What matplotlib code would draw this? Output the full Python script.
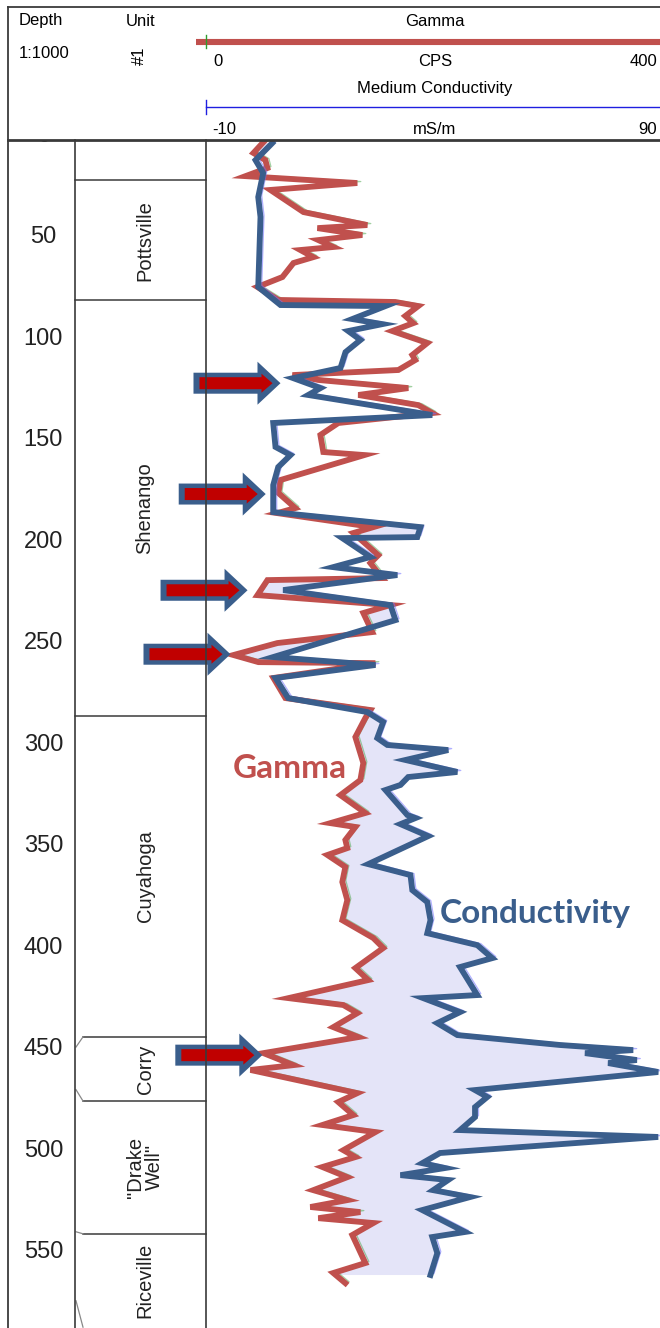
import numpy as np
import matplotlib
matplotlib.use('Agg')
import matplotlib.pyplot as plt
from matplotlib.patches import Polygon
from matplotlib import transforms

plt.rcParams['font.family'] = ['Liberation Sans', 'DejaVu Sans']

# ---------------- data ----------------
gamma_depth = [2.2, 8.6, 12.1, 16.0, 20.0, 23.4, 26.8, 37.7, 44.1, 45.6, 49.0, 51.5, 54.9, 56.4,
               59.9, 62.8, 69.7, 74.6, 81.0, 82.0, 84.0, 88.9, 92.4, 96.3, 102.2, 108.1, 110.6,
               115.5, 118.0, 120.4, 124.4, 127.8, 132.8, 136.7, 141.6, 147.5, 155.9, 157.4,
               169.7, 176.1, 183.5, 186.0, 192.9, 195.8, 206.7, 210.6, 218.0, 219.0, 226.4,
               231.3, 235.2, 244.6, 250.0, 255.9, 259.4, 259.9, 267.2, 277.1, 283.0, 286.9,
               296.3, 309.1, 317.5, 324.9, 333.7, 338.7, 340.6, 347.0, 351.0, 354.4, 360.3,
               367.7, 376.6, 386.5, 395.3, 400.2, 410.1, 416.0, 424.9, 428.3, 432.3, 439.2,
               444.1, 452.0, 457.9, 460.3, 471.7, 476.1, 482.5, 487.4, 490.9, 499.8, 503.2,
               508.1, 513.1, 519.5, 524.4, 527.8, 530.3, 533.3, 535.7, 541.6, 555.4, 560.3, 565.3]
gamma_cps = [52.7, 42.2, 52.7, 54.5, 35.2, 133.6, 57.1, 86.2, 142.4, 98.5, 138.0, 99.3, 112.5, 83.5,
             94.9, 77.4, 67.7, 45.7, 64.2, 167.0, 187.3, 175.8, 182.9, 164.4, 195.2, 182.0, 184.6,
             169.7, 76.5, 99.3, 178.5, 134.5, 187.3, 199.6, 116.9, 101.1, 103.7, 139.8,
             65.9, 64.2, 79.1, 63.3, 147.7, 130.1, 152.1, 145.1, 155.6, 54.5, 45.7,
             162.6, 138.9, 146.8, 63.3, 24.6, 46.6, 149.5, 59.8, 70.3, 145.1, 140.7,
             131.9, 138.9, 136.3, 118.7, 140.7, 109.9, 131.9, 123.1, 124.8, 107.3, 123.1,
             120.4, 124.8, 120.4, 147.7, 156.5, 131.9, 143.3, 73.0, 121.3, 133.6, 112.5,
             134.5, 51.0, 77.4, 39.6, 133.6, 116.9, 130.1, 102.9, 149.5, 121.3, 131.9,
             102.9, 124.8, 94.9, 124.8, 92.3, 136.3, 99.3, 147.7, 129.2, 140.7, 112.5, 123.1]

cond_depth = [3.7, 12.1, 18.5, 30.3, 40.1, 74.6, 83.5, 84.0, 90.4, 92.9, 96.3, 100.7, 106.7, 114.5,
              119.5, 124.4, 127.8, 137.7, 141.6, 153.4, 157.4, 163.3, 172.2, 185.5, 192.9, 197.8,
              198.3, 207.6, 212.6, 216.5, 223.9, 231.3, 238.7, 256.9, 260.8, 267.2, 277.1, 284.0,
              288.9, 296.8, 300.2, 302.7, 307.6, 313.5, 316.0, 319.9, 322.4, 334.7, 336.2, 339.2,
              345.1, 358.9, 364.3, 371.7, 377.6, 386.5, 392.9, 398.8, 405.2, 409.6, 423.4, 424.9,
              431.8, 437.2, 443.1, 448.0, 450.5, 452.0, 455.4, 456.9, 461.3, 470.2, 473.6, 478.6,
              483.5, 489.9, 493.3, 501.2, 506.2, 508.6, 512.1, 514.5, 519.5, 522.9, 529.3, 540.1,
              542.6, 550.5, 561.3]
cond_ms = [4.7, 1.0, 2.7, 1.6, 2.1, 1.6, 6.5, 29.6, 22.3, 28.9, 21.4, 24.1, 20.8, 19.7,
           9.3, 15.3, 12.6, 39.9, 4.9, 5.4, 8.7, 6.0, 4.9, 4.9, 37.3, 36.6,
           20.1, 26.3, 18.1, 32.2, 7.1, 30.7, 31.8, 4.9, 27.4, 5.4, 8.2, 25.6,
           29.1, 27.8, 30.0, 43.4, 34.0, 45.4, 34.6, 32.9, 29.6, 34.4, 36.2, 32.9,
           39.0, 25.8, 35.1, 35.5, 38.8, 39.5, 38.8, 49.8, 53.1, 46.0, 49.8, 37.9,
           46.0, 41.0, 45.4, 68.0, 84.1, 73.5, 84.9, 78.6, 89.6, 49.3, 52.0, 49.3,
           49.3, 46.0, 89.6, 41.6, 37.7, 42.7, 32.9, 43.4, 40.1, 48.2, 37.7, 47.1,
           39.9, 41.0, 39.5]

depth_ticks = [0, 50, 100, 150, 200, 250, 300, 350, 400, 450, 500, 550]
unit_names = ['Pottsville', 'Shenango', 'Cuyahoga', 'Corry', '"Drake\nWell"', 'Riceville']
unit_tops = [22, 81, 286, 444, 475.6, 541]
unit_bases = [81, 286, 444, 475.6, 541, 587]
arrow_depths = [122, 176.6, 224, 255.5, 453]
arrow_tip_cps = [66, 53, 37, 22, 50]
gamma_range = (0, 400)
cond_range = (-10, 90)
depth_view = (2.2, 587.4)

# ---------------- styles ----------------
W, H = 660, 1328
BODY_TOP = 140
RED = '#C0504D'
BLUE = '#3A5E8C'
FILL = '#E4E4F8'
FRAME = '#3a3a3a'

fig = plt.figure(figsize=(W / 100, H / 100), dpi=100)
fig.patch.set_facecolor('white')
hfrac = (H - BODY_TOP) / H

# track axes
ax = fig.add_axes([205.5 / W, 0, (W - 205.5) / W, hfrac])
ax.set_xlim(*gamma_range)
ax.set_ylim(depth_view[1], depth_view[0])
ax.axis('off')
axc = ax.twiny()
axc.set_xlim(*cond_range)
axc.set_ylim(depth_view[1], depth_view[0])
axc.axis('off')

g_d = np.array(gamma_depth); g_v = np.array(gamma_cps)
c_d = np.array(cond_depth); c_v = np.array(cond_ms)
# conductivity expressed on gamma scale for the shading
c_on_g = (c_v - cond_range[0]) / (cond_range[1] - cond_range[0]) * (gamma_range[1] - gamma_range[0]) + gamma_range[0]
grid = np.linspace(max(g_d[0], c_d[0]), min(g_d[-1], c_d[-1]), 3000)
gi = np.interp(grid, g_d, g_v)
ci = np.interp(grid, c_d, c_on_g)
ax.fill_betweenx(grid, gi, ci, where=ci > gi, interpolate=True, color=FILL, lw=0, zorder=1)

off = transforms.offset_copy(ax.transData, fig=fig, x=3.5, y=1.5, units='dots')
offc = transforms.offset_copy(axc.transData, fig=fig, x=3.5, y=1.5, units='dots')
ax.plot(g_v, g_d, color='#55AA55', lw=0.9, alpha=0.55, transform=off, zorder=2)
axc.plot(c_v, c_d, color='#6F6FFF', lw=0.9, alpha=0.55, transform=offc, zorder=2)
ax.plot(g_v, g_d, color=RED, lw=4.2, solid_joinstyle='miter', zorder=3)
axc.plot(c_v, c_d, color=BLUE, lw=4.2, solid_joinstyle='miter', zorder=4)

ax.text(23.7, 311.6, 'Gamma', color=RED, fontsize=24, fontweight='bold',
        family=['Lato', 'DejaVu Sans'], ha='left', va='center', zorder=6)
ax.text(206.6, 383, 'Conductivity', color=BLUE, fontsize=24, fontweight='bold',
        family=['Lato', 'DejaVu Sans'], ha='left', va='center', zorder=6)

# depth column
axd = fig.add_axes([9 / W, 0, (75 - 9) / W, hfrac])
axd.set_xlim(0, 1)
axd.set_ylim(depth_view[1], depth_view[0])
axd.axis('off')
for d in depth_ticks:
    axd.text(0.52, d, str(d), fontsize=17, ha='center', va='center', color='#222222', clip_on=True)

# unit column
axu = fig.add_axes([75 / W, 0, (206 - 75) / W, hfrac])
axu.set_xlim(0, 131)
axu.set_ylim(depth_view[1], depth_view[0])
axu.axis('off')
for name, top, base in zip(unit_names, unit_tops, unit_bases):
    mid = (top + base) / 2
    axu.text(70, mid, name, rotation=90, fontsize=14.5, ha='center', va='center',
             color='#222222', linespacing=1.0, multialignment='center')
for i, top in enumerate(unit_tops):
    x0 = 0 if i < 3 else 8
    axu.plot([x0, 131], [top, top], color=FRAME, lw=1.1, clip_on=False)
# chamfered corners of the lower units
cham = [((1, 449), (8, 444)), ((1, 470), (8, 475.6)), ((1, 540), (8, 541)), ((1, 574), (8, 587))]
for (xa, ya), (xb, yb) in cham:
    axu.plot([xa, xb], [ya, yb], color='#888888', lw=0.9)

# overlay: frame, header, arrows
ov = fig.add_axes([0, 0, 1, 1], zorder=10)
ov.set_xlim(0, W)
ov.set_ylim(H, 0)
ov.axis('off')
ov.plot([8, W], [7, 7], color=FRAME, lw=1.3)
ov.plot([8, 8], [7, H], color=FRAME, lw=1.3)
ov.plot([8, W], [BODY_TOP, BODY_TOP], color=FRAME, lw=2.0)
ov.plot([75, 75], [BODY_TOP, H], color=FRAME, lw=1.2)
ov.plot([206, 206], [BODY_TOP, H], color=FRAME, lw=1.2)

hfs = 12
ov.text(19, 21, 'Depth', fontsize=hfs, ha='left', va='center')
ov.text(141, 21, 'Unit', fontsize=hfs, ha='center', va='center')
ov.text(435, 21, 'Gamma', fontsize=hfs, ha='center', va='center')
ov.text(19, 53, '1:1000', fontsize=hfs, ha='left', va='center')
ov.text(139, 56, '#1', fontsize=hfs, ha='center', va='center', rotation=90)
ov.plot([196, W], [42, 42], color=RED, lw=4.4, solid_capstyle='butt')
ov.plot([206, 206], [35, 48], color='#2E9E2E', lw=1.0)
ov.text(213, 62, str(gamma_range[0]), fontsize=hfs, ha='left', va='center')
ov.text(435, 62, 'CPS', fontsize=hfs, ha='center', va='center')
ov.text(657, 62, str(gamma_range[1]), fontsize=hfs, ha='right', va='center')
ov.text(435, 88, 'Medium Conductivity', fontsize=hfs, ha='center', va='center')
ov.plot([206, W], [107, 107], color='#1F1FE0', lw=1.0)
ov.plot([206, 206], [100, 114], color='#1F1FE0', lw=1.0)
ov.text(212, 129, str(cond_range[0]), fontsize=hfs, ha='left', va='center')
ov.text(435, 129, 'mS/m', fontsize=hfs, ha='center', va='center')
ov.text(657, 129, str(cond_range[1]), fontsize=hfs, ha='right', va='center')


def arrow_verts(tx, ty, length, head_len, head_half, shaft_half):
    return [(tx - length, ty - shaft_half), (tx - head_len, ty - shaft_half),
            (tx - head_len, ty - head_half), (tx, ty),
            (tx - head_len, ty + head_half), (tx - head_len, ty + shaft_half),
            (tx - length, ty + shaft_half)]


for d, tip in zip(arrow_depths, arrow_tip_cps):
    px, py = ax.transData.transform((tip, d))
    tx, ty = px, H - py
    ov.add_patch(Polygon(arrow_verts(tx, ty, 87, 23, 21.5, 10.5), closed=True,
                         facecolor=BLUE, edgecolor='none'))
    ov.add_patch(Polygon(arrow_verts(tx - 8, ty, 73, 11, 9.5, 6.0), closed=True,
                         facecolor='#C00000', edgecolor='none'))

fig.savefig('out.png', dpi=100)
